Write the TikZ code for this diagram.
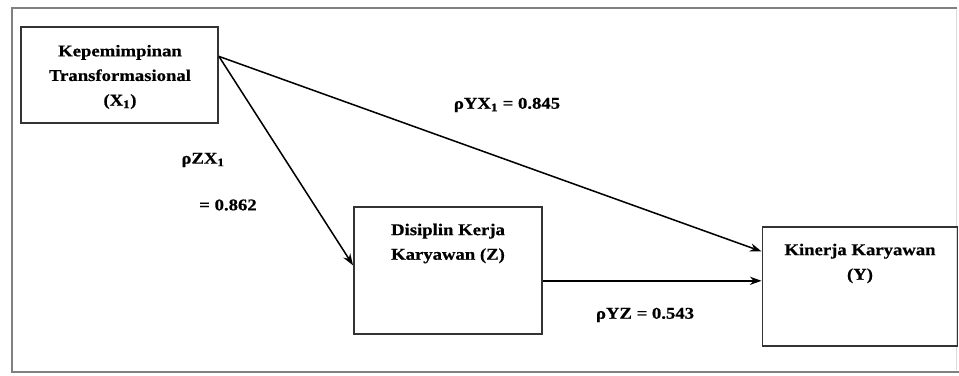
\documentclass[tikz,border=0pt]{standalone}
\usepackage{fontspec}
\setmainfont[FakeStretch=1.14,FakeBold=0.6]{Liberation Serif}
\usetikzlibrary{arrows.meta,calc}
\begin{document}
\begin{tikzpicture}[x=0.03cm,y=-0.03cm,
  box/.style={draw=black!80,line width=1.6pt,rectangle,inner sep=0pt},
  txt/.style={font=\fontsize{14}{21}\selectfont\bfseries,align=center,text=black,inner sep=0pt},
  lbl/.style={font=\fontsize{14}{16}\selectfont\bfseries,text=black,inner sep=0pt},
  arr/.style={line width=1.3pt,-{Stealth[length=10pt,width=7pt]}}]
\useasboundingbox (0,0) rectangle (959,376);
% outer frame
\draw[black!50,line width=1.6pt] (957,8) -- (12,8) -- (12,372) -- (959,372);
\draw[black!15,line width=0.8pt] (956,10) -- (956,370);
% boxes
\node[box,minimum width=197*0.03cm,minimum height=96*0.03cm] (x1) at (119.5,75) {};
\node[box,minimum width=188*0.03cm,minimum height=127*0.03cm] (z) at (448,270.5) {};
\node[box,minimum width=195*0.03cm,minimum height=119*0.03cm] (y) at (860,286.5) {};
% box texts
\node[txt] (tx1) at (120,77) {Kepemimpinan\\Transformasional\\(X\textsubscript{1})};
\node[txt] (tz) at (448,243.5) {Disiplin Kerja\\Karyawan (Z)};
\node[txt] (ty) at (860,263.5) {Kinerja Karyawan\\(Y)};
% labels
\node[lbl] (l1) at (507,105) {ρYX\textsubscript{1} = 0.845};
\node[lbl] (l2) at (203,160) {ρZX\textsubscript{1}};
\node[lbl] (l3) at (228,205) {= 0.862};
\node[lbl] (l4) at (645,315) {ρYZ = 0.543};
% connectors
\coordinate (s) at ($(x1.north east)!0.31!(x1.south east)$);
\coordinate (ey) at ($(y.north west)!0.21!(y.south west)$);
\coordinate (ez) at ($(z.north west)!0.46!(z.south west)$);
\coordinate (zy) at ($(z.north east)!0.58!(z.south east)$);
\draw[arr] (s) -- (ey);
\draw[arr] (s) -- (ez);
\draw[arr] (zy) -- (zy -| y.west);
\end{tikzpicture}
\end{document}
